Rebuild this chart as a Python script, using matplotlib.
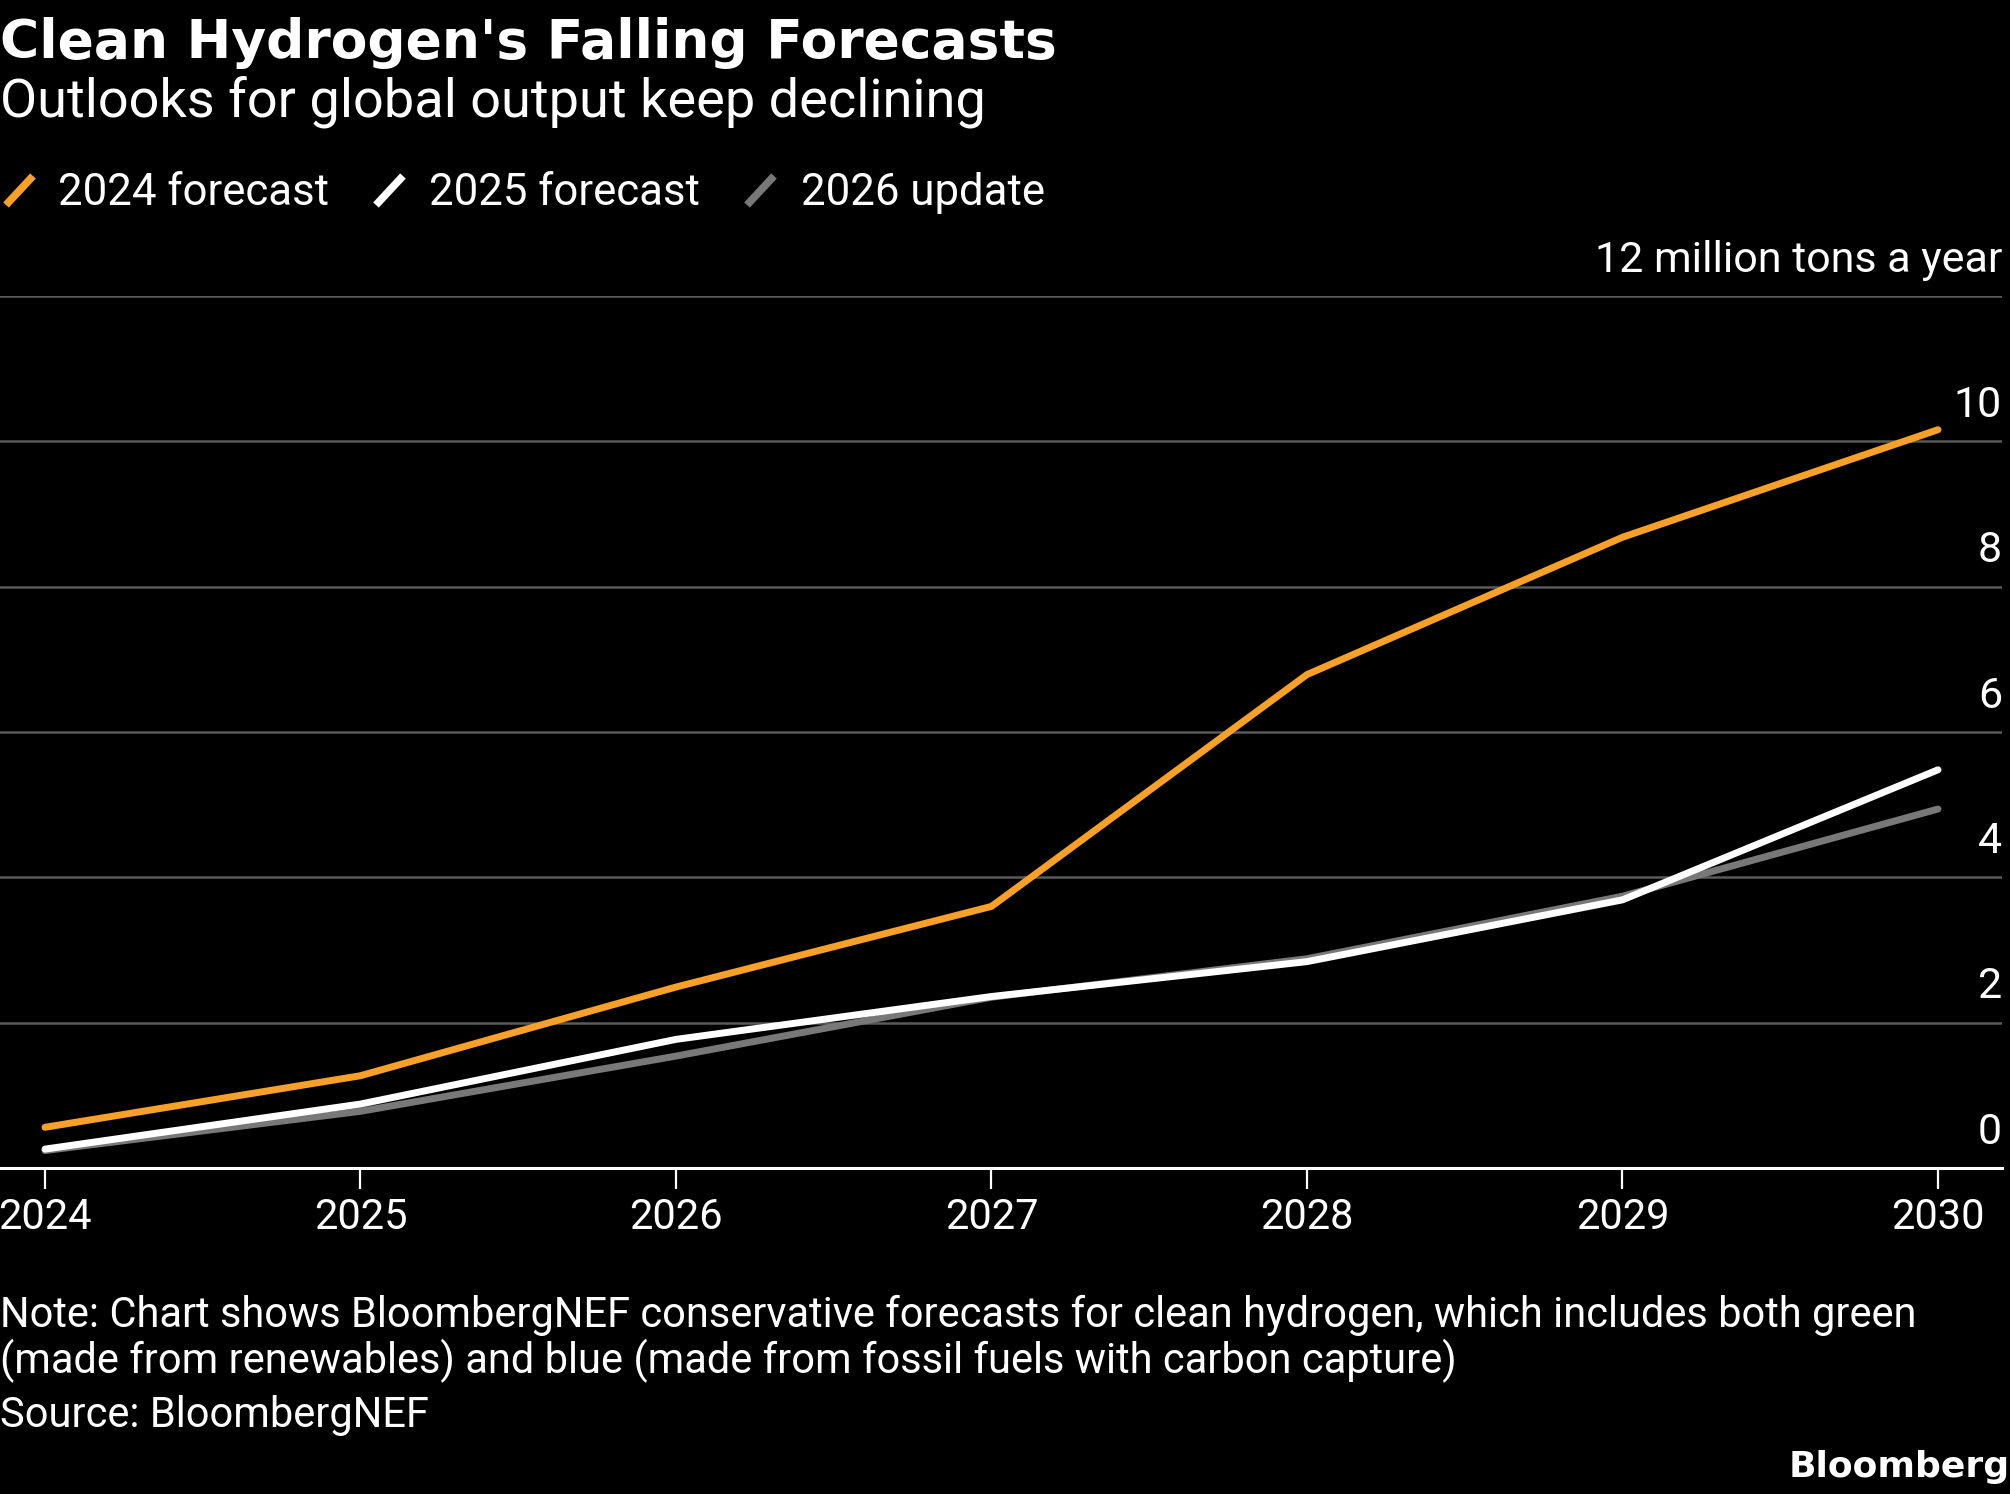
import matplotlib
matplotlib.use("Agg")
import matplotlib.pyplot as plt
from matplotlib.lines import Line2D

plt.rcParams["font.family"] = ["Roboto", "DejaVu Sans"]

# data
years = [2024, 2025, 2026, 2027, 2028, 2029, 2030]
forecast_2024 = [0.56, 1.27, 2.49, 3.60, 6.79, 8.68, 10.16]
forecast_2025 = [0.26, 0.88, 1.77, 2.36, 2.84, 3.69, 5.48]
update_2026 = [0.24, 0.78, 1.54, 2.35, 2.88, 3.74, 4.94]
y_ticks = [0, 2, 4, 6, 8, 10, 12]

series_names = ["2024 forecast", "2025 forecast", "2026 update"]
colors = ["#f7a02a", "#ffffff", "#787878"]

W, H = 2010, 1494
fig = plt.figure(figsize=(W / 100, H / 100), dpi=100, facecolor="black")
ax = fig.add_axes([0, (H - 1168) / H, 2002 / W, (1168 - 296) / H])
ax.set_facecolor("black")

ax.plot(years, update_2026, color=colors[2], lw=5, solid_capstyle="round", zorder=3)
ax.plot(years, forecast_2025, color=colors[1], lw=5, solid_capstyle="round", zorder=4)
ax.plot(years, forecast_2024, color=colors[0], lw=5, solid_capstyle="round", zorder=5)

ax.set_xlim(2024 - 45 / 315.5, 2030 + 64 / 315.5)
ax.set_ylim(0, 12)

for s in ["top", "right", "left"]:
    ax.spines[s].set_visible(False)
ax.spines["bottom"].set_color("white")
ax.spines["bottom"].set_linewidth(2.2)
ax.spines["bottom"].set_zorder(6)

ax.set_yticks(y_ticks)
ax.yaxis.grid(True, color="#5a5a5a", lw=1.8)
ax.set_axisbelow(True)
ax.tick_params(axis="y", length=0, labelleft=False)
ax.set_xticks(years)
ax.set_xticklabels([str(y) for y in years])
ax.tick_params(axis="x", colors="white", length=15, width=1.6, pad=6, labelsize=30)

# y labels at right, sitting above the gridlines
for v in y_ticks:
    lab = "12 million tons a year" if v == 12 else str(v)
    ax.annotate(lab, xy=(1.0, v), xycoords=("axes fraction", "data"),
                xytext=(0, 11), textcoords="offset points",
                ha="right", va="bottom", color="white", fontsize=31)

def fy(px):
    return 1 - px / H

fig.text(0.0, fy(58), "Clean Hydrogen's Falling Forecasts", color="white",
         fontsize=38.5, fontweight="bold", family="DejaVu Sans", va="baseline", ha="left")
fig.text(0.0, fy(117), "Outlooks for global output keep declining", color="white",
         fontsize=39, va="baseline", ha="left")

# legend with slanted swatches
legend_x = [58, 429, 801]
swatch_x = [6, 376, 747]
for name, c, tx, sx in zip(series_names, colors, legend_x, swatch_x):
    fig.add_artist(Line2D([sx / W, (sx + 27) / W], [fy(205), fy(176)],
                          color=c, lw=5.5, solid_capstyle="butt"))
    fig.text(tx / W, fy(205), name, color="white", fontsize=31.5,
             va="baseline", ha="left")

fig.text(0.0, fy(1327), "Note: Chart shows BloombergNEF conservative forecasts for clean hydrogen, which includes both green",
         color="white", fontsize=30, va="baseline", ha="left")
fig.text(0.0, fy(1373), "(made from renewables) and blue (made from fossil fuels with carbon capture)",
         color="white", fontsize=30, va="baseline", ha="left")
fig.text(0.0, fy(1427), "Source: BloombergNEF", color="white", fontsize=30,
         va="baseline", ha="left")
fig.text(1.0, fy(1477), "Bloomberg", color="white", fontsize=26, fontweight="bold",
         family="DejaVu Sans", va="baseline", ha="right")

fig.savefig("out.png", dpi=100, facecolor="black")
